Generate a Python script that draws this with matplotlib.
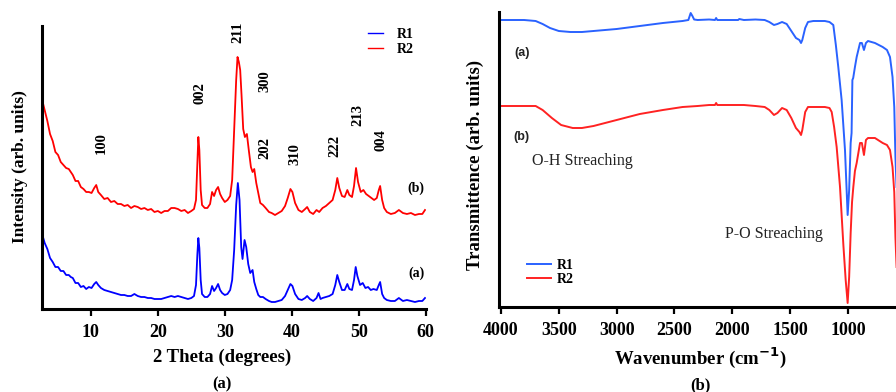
import numpy as np
import matplotlib.pyplot as plt

plt.rcParams['font.family'] = ['Liberation Serif', 'DejaVu Serif']

# ---- XRD data (2 theta, relative intensity) ----
xrd_r2_theta = [2.8, 3.1, 3.5, 3.9, 4.3, 4.7, 5.1, 5.5, 5.9, 6.3, 6.7, 7.0, 7.3, 7.7, 8.1, 8.5,
                8.9, 9.3, 9.7, 10.1, 10.5, 10.8, 11.1, 11.5, 12.0, 12.5, 13.0, 13.5, 14.0, 14.5,
                15.0, 15.5, 16.0, 16.5, 17.0, 17.5, 18.0, 18.5, 19.0, 19.5, 20.0, 20.5, 21.0,
                21.5, 22.0, 22.5, 23.0, 23.5, 24.0, 24.5, 25.0, 25.4, 25.7, 25.9, 26.05, 26.2,
                26.4, 26.6, 27.0, 27.4, 27.8, 28.1, 28.4, 28.7, 29.0, 29.3, 29.6, 30.0, 30.4,
                30.8, 31.1, 31.4, 31.7, 31.9, 32.1, 32.3, 32.5, 32.75, 33.0, 33.3, 33.6, 33.9,
                34.15, 34.4, 34.7, 35.0, 35.3, 35.7, 36.1, 36.6, 37.0, 37.5, 38.0, 38.5, 39.0,
                39.4, 39.8, 40.1, 40.5, 41.0, 41.5, 42.0, 42.3, 42.7, 43.2, 43.7, 44.1, 44.6,
                45.1, 45.6, 46.1, 46.5, 46.8, 47.1, 47.5, 47.9, 48.3, 48.6, 49.0, 49.3, 49.6,
                49.9, 50.3, 50.7, 51.1, 51.5, 51.9, 52.3, 52.7, 53.0, 53.2, 53.5, 53.8, 54.2,
                54.8, 55.4, 56.0, 56.6, 57.2, 57.8, 58.4, 59.0, 59.5, 59.9]
xrd_r2_int = [207, 199, 188, 175, 168, 157, 154, 147, 144, 141, 140, 137, 134, 128, 128, 122,
              120, 117, 117, 116, 121, 124, 117, 114, 110, 111, 107, 108, 105, 105,
              103, 104, 101, 103, 102, 100, 101, 99, 100, 97, 98, 96, 98,
              98, 101, 101, 100, 98, 99, 96, 98, 100, 109, 144, 172, 159,
              119, 104, 101, 101, 105, 117, 113, 119, 122, 115, 111, 107, 109,
              113, 129, 179, 229, 252, 247, 239, 214, 180, 172, 175, 158, 142,
              137, 140, 126, 116, 106, 104, 101, 97, 96, 94, 96, 98, 103,
              111, 120, 117, 106, 99, 97, 100, 102, 97, 95, 99, 97, 101,
              103, 106, 109, 119, 131, 121, 113, 112, 119, 114, 112, 123, 141,
              127, 117, 119, 115, 113, 111, 109, 111, 119, 123, 109, 101, 97,
              95, 96, 99, 96, 95, 96, 94, 95, 95, 99]

xrd_r1_theta = [2.8, 3.1, 3.5, 3.9, 4.3, 4.7, 5.1, 5.5, 5.9, 6.3, 6.7, 7.0, 7.3, 7.7, 8.1, 8.5,
                8.9, 9.3, 9.7, 10.1, 10.5, 10.8, 11.1, 11.5, 12.0, 12.5, 13.0, 13.5, 14.0, 14.5,
                15.0, 15.5, 16.0, 16.5, 17.0, 17.5, 18.0, 18.5, 19.0, 19.5, 20.0, 20.5, 21.0,
                21.5, 22.0, 22.5, 23.0, 23.5, 24.0, 24.5, 25.0, 25.4, 25.7, 25.9, 26.05, 26.2,
                26.4, 26.6, 27.0, 27.4, 27.8, 28.1, 28.4, 28.7, 29.0, 29.3, 29.6, 30.0, 30.4,
                30.8, 31.1, 31.4, 31.7, 31.95, 32.2, 32.45, 32.65, 32.95, 33.2, 33.5, 33.8,
                34.15, 34.4, 34.7, 35.0, 35.3, 35.7, 36.1, 36.6, 37.0, 37.5, 38.0, 38.5, 39.0,
                39.4, 39.8, 40.1, 40.5, 41.0, 41.5, 42.0, 42.3, 42.7, 43.2, 43.7, 44.0, 44.3,
                44.6, 45.1, 45.6, 46.1, 46.5, 46.8, 47.1, 47.5, 47.9, 48.3, 48.6, 49.0, 49.3,
                49.55, 49.8, 50.2, 50.6, 51.0, 51.4, 51.8, 52.2, 52.7, 53.0, 53.2, 53.5, 53.8,
                54.2, 54.8, 55.4, 56.0, 56.6, 57.2, 57.8, 58.4, 59.0, 59.5, 59.9]
xrd_r1_int = [73, 66, 60, 51, 47, 42, 42, 38, 38, 34, 34, 32, 31, 26, 26, 22,
              23, 20, 22, 21, 25, 27, 24, 21, 19, 18, 17, 16, 15, 14,
              14, 13, 13, 15, 13, 12, 12, 11, 11, 10, 10, 10, 11,
              12, 13, 12, 13, 12, 11, 10, 11, 13, 24, 54, 71, 61,
              29, 15, 12, 12, 15, 23, 18, 21, 25, 19, 16, 14, 15,
              19, 29, 59, 104, 126, 109, 62, 50, 69, 62, 45, 36,
              39, 27, 20, 14, 12, 12, 10, 8, 7, 7, 8, 9, 13,
              19, 25, 23, 15, 10, 9, 11, 13, 10, 8, 11, 16, 10,
              11, 12, 13, 15, 24, 34, 27, 19, 19, 25, 20, 19, 29,
              42, 33, 24, 26, 21, 22, 19, 20, 19, 24, 27, 15, 11,
              9, 8, 8, 11, 8, 9, 8, 7, 8, 8, 11]

peak_labels = ['100', '002', '211', '300', '202', '310', '222', '213', '004']
peak_x = [11.5, 26.25, 31.95, 36.0, 36.0, 40.5, 46.5, 49.9, 53.4]
peak_y = [166, 216, 277, 228, 161, 155, 163, 194, 169]

# ---- FTIR data (wavenumber, relative transmittance) ----
ftir_r1_wn = [4000, 3800, 3700, 3640, 3576, 3500, 3400, 3300, 3200, 3000, 2800, 2600, 2430,
              2380, 2360, 2345, 2330, 2300, 2200, 2150, 2140, 2130, 2000, 1950, 1940, 1900,
              1800, 1720, 1680, 1640, 1610, 1570, 1530, 1490, 1450, 1420, 1406, 1395, 1370,
              1346, 1300, 1200, 1160, 1127, 1105, 1084, 1055, 1026, 1010, 1003, 990, 977,
              969, 962, 955, 940, 925, 896, 880, 862, 845, 827, 767, 700, 663, 637, 615,
              600, 590, 580]
ftir_r1_t = [287, 287, 286, 283, 279, 276, 275, 275, 276, 278, 281, 284, 286,
             287, 294, 291, 287.5, 287, 287.5, 287, 289, 287, 287, 287, 288, 287,
             287.5, 287, 285, 282, 283, 285, 283, 276, 269, 267, 264, 267, 279,
             285, 286, 286, 285, 282, 262, 240, 207, 157, 112, 92, 117, 164,
             174, 227, 229, 240, 250, 264, 264, 257, 264, 266, 264, 260, 257, 250, 230,
             200, 150, 120]

ftir_r2_wn = [4000, 3800, 3700, 3640, 3560, 3480, 3380, 3300, 3200, 3000, 2800, 2600, 2430,
              2300, 2200, 2150, 2140, 2130, 1900, 1800, 1720, 1680, 1640, 1610, 1570, 1530,
              1490, 1450, 1420, 1406, 1395, 1370, 1346, 1200, 1160, 1141, 1120, 1098, 1069,
              1040, 1020, 1003, 990, 977, 965, 954, 940, 925, 896, 880, 862, 845, 827, 767,
              700, 663, 637, 615, 600, 590, 580]
ftir_r2_t = [201, 201, 201, 197, 189, 182, 179, 179, 181, 187, 193, 197, 200,
             201, 202, 202, 204, 202, 202, 201, 200, 197, 192, 194, 199, 197,
             189, 179, 175, 172, 177, 195, 200, 200, 199, 195, 180, 160, 120,
             62, 27, 4, 30, 74, 105, 120, 136, 144, 164, 164, 152, 167, 169, 169,
             164, 162, 157, 140, 115, 70, 40]

fig = plt.figure(figsize=(8.96, 3.92), dpi=100)

# ---------------- panel (a): XRD ----------------
ax1 = fig.add_axes([42 / 896, 1 - 309 / 392, 384 / 896, 283 / 392])
ax1.plot(xrd_r1_theta, xrd_r1_int, color='#0000ff', lw=1.3, label='R1')
ax1.plot(xrd_r2_theta, xrd_r2_int, color='#ff0000', lw=1.3, label='R2')
ax1.set_xlim(2.7, 60.05)
ax1.set_ylim(0, 283)
ax1.set_xticks([10, 20, 30, 40, 50, 60])
ax1.set_yticks([])

for lab, px, py in zip(peak_labels, peak_x, peak_y):
    ax1.text(px, py, lab, rotation=90, ha='center', va='center',
             fontsize=10.5, fontweight='bold')
ax1.text(58.6, 121, '(b)', ha='center', va='center', fontsize=10, fontweight='bold')
ax1.text(58.6, 36, '(a)', ha='center', va='center', fontsize=10, fontweight='bold')

leg1 = ax1.legend(loc='center left', bbox_to_anchor=(0.83, 0.944), frameon=False,
                  borderpad=0, handlelength=1.1, handletextpad=1.0, labelspacing=0.1,
                  prop={'weight': 'bold', 'size': 10})
for h in leg1.get_lines():
    h.set_linewidth(1.0)

# ---------------- panel (b): FTIR ----------------
ax2 = fig.add_axes([499 / 896, 1 - 307 / 392, 397 / 896, 295 / 392])
ax2.plot(ftir_r1_wn, ftir_r1_t, color='#2a62ff', lw=1.4, label='R1')
ax2.plot(ftir_r2_wn, ftir_r2_t, color='#ff2222', lw=1.4, label='R2')
ax2.set_xlim(4017, 585)
ax2.set_ylim(0, 295)
ax2.set_xticks([4000, 3500, 3000, 2500, 2000, 1500, 1000])
ax2.set_yticks([])

ax2.text(3821, 254, '(a)', ha='center', va='center', fontsize=9, fontweight='bold',
         family='Liberation Sans', color='#222222')
ax2.text(3821, 170, '(b)', ha='center', va='center', fontsize=9, fontweight='bold',
         family='Liberation Sans', color='#222222')
ax2.text(3735, 146, 'O-H Streaching', ha='left', va='center', fontsize=11.5, color='#222222')
ax2.text(2063, 73, 'P-O Streaching', ha='left', va='center', fontsize=11.5, color='#222222')

leg2 = ax2.legend(loc='center left', bbox_to_anchor=(0.053, 0.117), frameon=False,
                  borderpad=0, handlelength=1.7, handletextpad=0.45, labelspacing=0.1,
                  prop={'weight': 'bold', 'size': 10})

for ax in (ax1, ax2):
    for s in ('top', 'right'):
        ax.spines[s].set_visible(False)
    for s in ('left', 'bottom'):
        ax.spines[s].set_linewidth(2.2)
    ax.tick_params(axis='x', direction='out', length=5, width=1.6, pad=6,
                   labelsize=13)
    for t in ax.get_xticklabels():
        t.set_fontweight('bold')

# axis titles and panel captions
fig.text(20 / 896, 1 - 167 / 392, 'Intensity (arb. units)', rotation=90, ha='center',
         va='center', fontsize=12.5, fontweight='bold')
fig.text(222 / 896, 1 - 357 / 392, '2 Theta (degrees)', ha='center', va='center',
         fontsize=13.5, fontweight='bold')
fig.text(222 / 896, 1 - 384 / 392, '(a)', ha='center', va='center', fontsize=12,
         fontweight='bold')

fig.text(475 / 896, 1 - 165 / 392, 'Transmittence (arb. units)', rotation=90, ha='center',
         va='center', fontsize=13.5, fontweight='bold')
fig.text(700 / 896, 1 - 358 / 392, r'Wavenumber (cm$^{\mathbf{-1}}$)', ha='center',
         va='center', fontsize=13.5, fontweight='bold')
fig.text(700 / 896, 1 - 385 / 392, '(b)', ha='center', va='center', fontsize=12,
         fontweight='bold')

fig.savefig('out.png', dpi=100)
